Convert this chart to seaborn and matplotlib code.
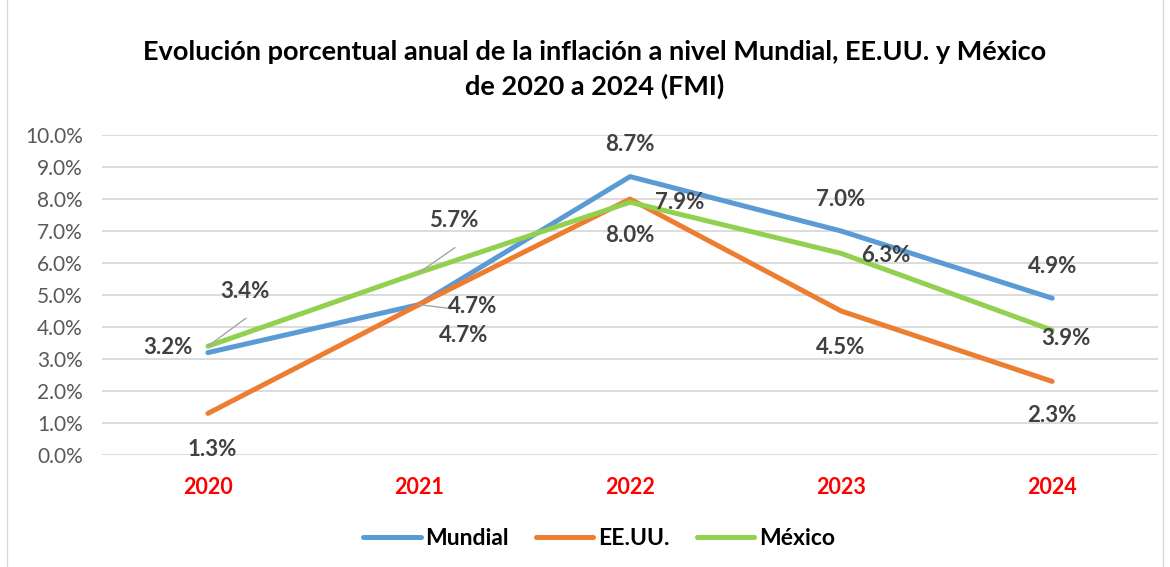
import matplotlib
matplotlib.use("Agg")
import matplotlib.pyplot as plt
import seaborn as sns
import pandas as pd
import numpy as np
from matplotlib.ticker import FuncFormatter
from matplotlib.patches import Rectangle

years = ["2020", "2021", "2022", "2023", "2024"]
mundial = [3.2, 4.7, 8.7, 7.0, 4.9]
eeuu = [1.3, 4.7, 8.0, 4.5, 2.3]
mexico = [3.4, 5.7, 7.9, 6.3, 3.9]
series_names = ["Mundial", "EE.UU.", "México"]
colors = ["#5B9BD5", "#ED7D31", "#92D050"]
title = "Evolución porcentual anual de la inflación a nivel Mundial, EE.UU. y México\nde 2020 a 2024 (FMI)"

sns.set_theme(style="white")
plt.rcParams["font.family"] = ["Lato", "DejaVu Sans"]

rows = []
for name, vals in zip(series_names, [mundial, eeuu, mexico]):
    for i, v in enumerate(vals):
        rows.append({"pos": i, "value": v, "serie": name})
df = pd.DataFrame(rows)

fig = plt.figure(figsize=(11.7, 5.67), dpi=100)
ax = fig.add_axes([0.0875, 0.1975, 0.902, 0.5644])

sns.lineplot(data=df, x="pos", y="value", hue="serie", hue_order=series_names,
             palette=colors, linewidth=3.6, ax=ax, legend=True, sort=False)
for ln in ax.lines:
    ln.set_solid_capstyle("round")
    ln.set_solid_joinstyle("round")

ax.set_xlim(-0.5, 4.5)
ax.set_ylim(0, 10)
ax.set_yticks(np.arange(0, 10.01, 1))
ax.yaxis.set_major_formatter(FuncFormatter(lambda v, p: f"{v:.1f}%"))
ax.set_xticks(range(len(years)))
ax.set_xticklabels(years, color="#FF0000", fontweight="bold", fontsize=15.5)
ax.tick_params(axis="y", labelsize=15, labelcolor="#595959", length=0, pad=14)
ax.tick_params(axis="x", length=0, pad=16)
ax.set_xlabel("")
ax.set_ylabel("")
ax.grid(axis="y", color="#D9D9D9", linewidth=1.3)
ax.set_axisbelow(True)
for s in ax.spines.values():
    s.set_visible(False)

# data labels: offsets in pixels (dx, dy), optional leader line
offsets = {
    "Mundial": [(-40, 5, False), (54, -2, True), (0, 32, False), (0, 32, False), (0, 32, False)],
    "EE.UU.": [(4, -36, False), (45, -31, False), (0, -36, False), (0, -36, False), (0, -34, False)],
    "México": [(37, 55, True), (35, 52, True), (50, 0, False), (45, -2, False), (14, -8, False)],
}
for name, vals in zip(series_names, [mundial, eeuu, mexico]):
    for i, v in enumerate(vals):
        dx, dy, leader = offsets[name][i]
        ax.annotate(f"{v:.1f}%", xy=(i, v), xytext=(dx, dy), textcoords="offset pixels",
                    ha="center", va="center", fontsize=16, fontweight="bold", color="#404040",
                    zorder=5)
        if leader:
            if name == "Mundial":
                ax.annotate("", xy=(i, v), xytext=(dx - 22, dy - 2), textcoords="offset pixels",
                            arrowprops=dict(arrowstyle="-", color="#A6A6A6", lw=1.0,
                                            shrinkA=0, shrinkB=0))
            else:
                ax.annotate("", xy=(i, v), xytext=(dx + 1, dy - 27), textcoords="offset pixels",
                            arrowprops=dict(arrowstyle="-", color="#A6A6A6", lw=1.0,
                                            shrinkA=0, shrinkB=0))

fig.text(0.508, 0.93, title, ha="center", va="top", fontsize=19.5, fontweight="bold",
         color="#000000", linespacing=1.45)

handles, labels = ax.get_legend_handles_labels()
ax.legend_.remove()
leg = fig.legend(handles, labels, loc="center", bbox_to_anchor=(0.512, 0.05), ncol=3,
                 frameon=False, prop={"weight": "bold", "size": 16.5}, handlelength=2.5,
                 columnspacing=1.2, handletextpad=0.2)
for t in leg.get_texts():
    t.set_color("#000000")
for h in leg.legend_handles:
    h.set_linewidth(3.6)
    h.set_solid_capstyle("round")

fig.patches.append(Rectangle((0.006, -0.01), 0.988, 1.02, transform=fig.transFigure,
                             fill=False, edgecolor="#D9D9D9", linewidth=1.0))

fig.savefig("out.png", dpi=100, facecolor="white")
